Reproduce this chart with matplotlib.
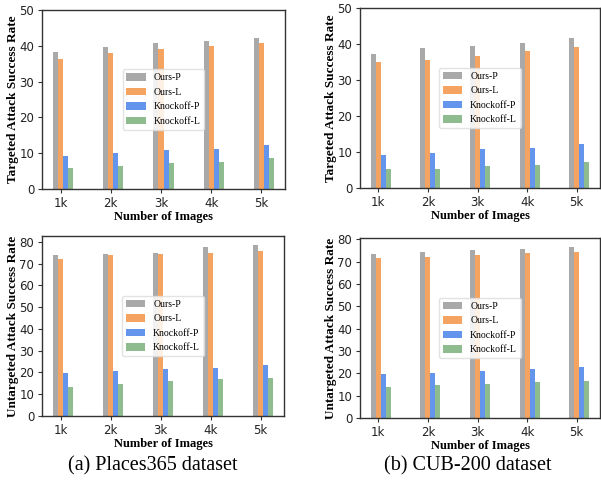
import numpy as np
import matplotlib
matplotlib.use('Agg')
import matplotlib.pyplot as plt
from matplotlib.ticker import MultipleLocator

W, H = 601, 482

labels = ['1k', '2k', '3k', '4k', '5k']
series = ['Ours-P', 'Ours-L', 'Knockoff-P', 'Knockoff-L']
colors = ['darkgray', 'sandybrown', 'cornflowerblue', 'darkseagreen']

# Places365, targeted
pl_t_ours_p = [38.2, 39.7, 40.7, 41.3, 42.1]
pl_t_ours_l = [36.2, 38.0, 39.0, 40.0, 40.9]
pl_t_ko_p = [9.3, 10.0, 10.9, 11.2, 12.3]
pl_t_ko_l = [5.9, 6.5, 7.2, 7.6, 8.7]

# CUB-200, targeted
cub_t_ours_p = [37.2, 38.9, 39.4, 40.4, 41.7]
cub_t_ours_l = [35.0, 35.5, 36.6, 38.0, 39.1]
cub_t_ko_p = [9.3, 9.8, 10.8, 11.1, 12.2]
cub_t_ko_l = [5.2, 5.2, 6.0, 6.5, 7.1]

# Places365, untargeted
pl_u_ours_p = [73.9, 74.5, 74.9, 77.7, 78.8]
pl_u_ours_l = [72.2, 74.0, 74.5, 74.9, 75.9]
pl_u_ko_p = [19.6, 20.5, 21.6, 22.2, 23.4]
pl_u_ko_l = [13.3, 14.7, 16.1, 17.0, 17.5]

# CUB-200, untargeted
cub_u_ours_p = [73.6, 74.2, 75.1, 75.7, 76.7]
cub_u_ours_l = [71.4, 72.1, 72.9, 73.8, 74.2]
cub_u_ko_p = [19.9, 20.3, 21.1, 21.7, 22.7]
cub_u_ko_l = [13.7, 14.7, 15.3, 16.0, 16.5]

serif = ['Liberation Serif', 'DejaVu Serif']

fig = plt.figure(figsize=(W / 100, H / 100), dpi=100)


def px_axes(l, r, t, b):
    return fig.add_axes([l / W, 1 - b / H, (r - l) / W, (b - t) / H])


def panel(ax, data, ylabel, ylim=None):
    x = np.arange(len(labels))
    w = 0.1
    for i, (vals, c, name) in enumerate(zip(data, colors, series)):
        ax.bar(x + (i - 1) * w, vals, w, color=c, label=name)
    ax.set_xticks(x)
    ax.set_xticklabels(labels)
    ax.yaxis.set_major_locator(MultipleLocator(10))
    if ylim is not None:
        ax.set_ylim(*ylim)
    for s in ax.spines.values():
        s.set_color('#333333')
        s.set_linewidth(1.0)
    ax.tick_params(labelsize=8.5, length=3, pad=2.5, color='#333333', labelcolor='#222222')
    ax.set_ylabel(ylabel, family=serif, fontweight='bold', fontsize=9.5)
    ax.yaxis.set_label_coords(-0.096, 0.5)
    ax.set_xlabel('Number of Images', family=serif, fontweight='bold', fontsize=9, labelpad=1)
    leg = ax.legend(loc='center', prop={'family': serif, 'size': 7},
                    handlelength=2.0, handleheight=0.8, labelspacing=0.55,
                    fancybox=True, framealpha=0.85)
    leg.get_frame().set_edgecolor('#dddddd')


ax1 = px_axes(42, 285, 10, 189)
panel(ax1, [pl_t_ours_p, pl_t_ours_l, pl_t_ko_p, pl_t_ko_l],
      'Targeted Attack Success Rate', (0, 50))

ax2 = px_axes(360, 600, 8, 188)
panel(ax2, [cub_t_ours_p, cub_t_ours_l, cub_t_ko_p, cub_t_ko_l],
      'Targeted Attack Success Rate', (0, 50))

ax3 = px_axes(42, 284, 236, 416)
panel(ax3, [pl_u_ours_p, pl_u_ours_l, pl_u_ko_p, pl_u_ko_l],
      'Untargeted Attack Success Rate')

ax4 = px_axes(360, 600, 238, 418)
panel(ax4, [cub_u_ours_p, cub_u_ours_l, cub_u_ko_p, cub_u_ko_l],
      'Untargeted Attack Success Rate')

fig.text(153 / W, 1 - 466 / H, '(a) Places365 dataset', family=serif,
         fontsize=14.5, ha='center', va='center')
fig.text(468 / W, 1 - 466 / H, '(b) CUB-200 dataset', family=serif,
         fontsize=14.5, ha='center', va='center')

fig.savefig('out.png', dpi=100)
